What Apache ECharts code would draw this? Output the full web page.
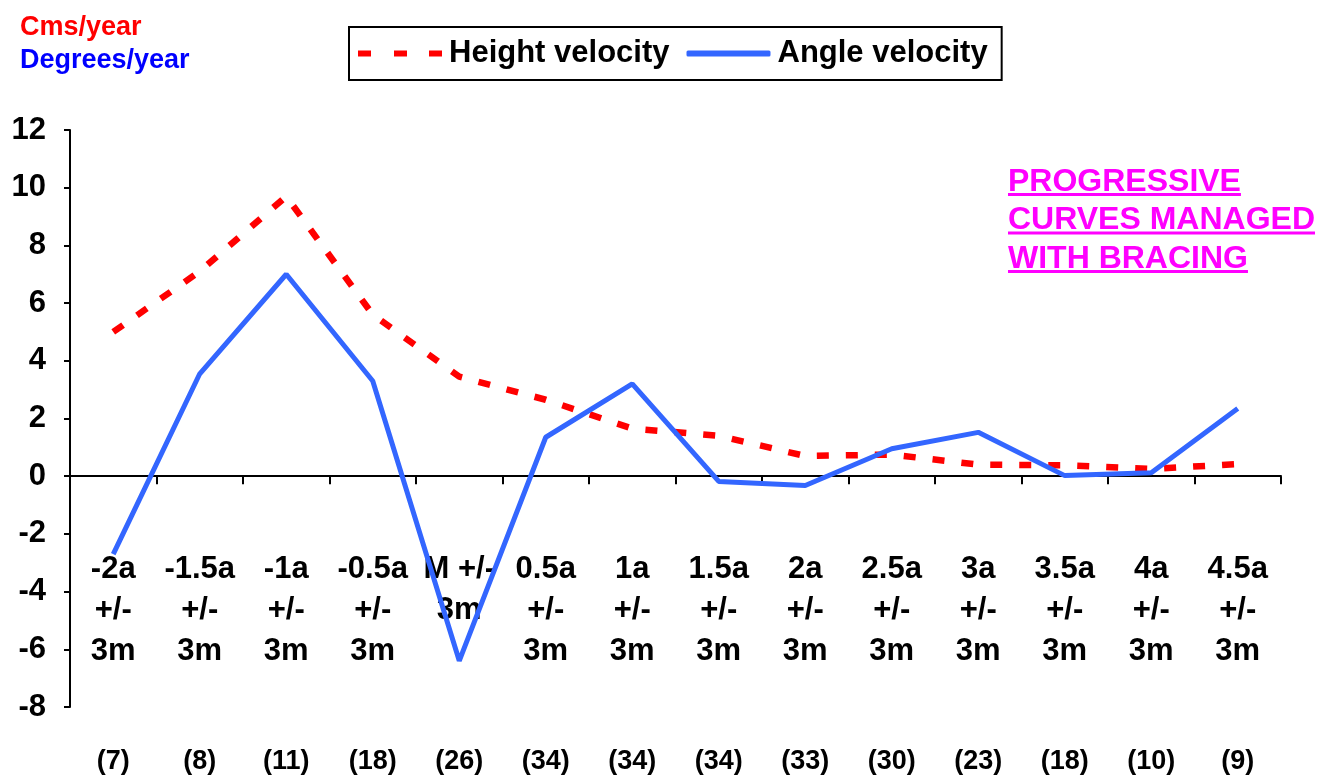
<!DOCTYPE html>
<html>
<head>
<meta charset="utf-8">
<script src="https://cdn.jsdelivr.net/npm/echarts@6/dist/echarts.min.js"></script>
<style>
html,body{margin:0;padding:0;background:#fff;}
#chart{width:1320px;height:777px;}
</style>
</head>
<body>
<div id="chart"></div>
<script>
const categories = ['-2a\n+/-\n3m','-1.5a\n+/-\n3m','-1a\n+/-\n3m','-0.5a\n+/-\n3m','M +/-\n3m','0.5a\n+/-\n3m','1a\n+/-\n3m','1.5a\n+/-\n3m','2a\n+/-\n3m','2.5a\n+/-\n3m','3a\n+/-\n3m','3.5a\n+/-\n3m','4a\n+/-\n3m','4.5a\n+/-\n3m'];
const sampleSizes = ['(7)','(8)','(11)','(18)','(26)','(34)','(34)','(34)','(33)','(30)','(23)','(18)','(10)','(9)'];
const heightVelocity = [5.0, 7.1, 9.7, 5.6, 3.45, 2.65, 1.65, 1.4, 0.7, 0.75, 0.4, 0.38, 0.25, 0.42];
const angleVelocity = [-2.7, 3.55, 7.0, 3.3, -6.4, 1.35, 3.2, -0.18, -0.32, 0.95, 1.52, 0.02, 0.12, 2.35];
const yTicks = {min: -8, max: 12, interval: 2};
const annotLines = ['PROGRESSIVE', 'CURVES MANAGED', 'WITH BRACING'];

const FONT = '"Liberation Sans", Arial, sans-serif';
const chart = echarts.init(document.getElementById('chart'), null, {renderer: 'canvas'});

const measure = (txt, font) => {
  const c = document.createElement('canvas').getContext('2d');
  c.font = font;
  return c.measureText(txt).width;
};

const graphics = [
  {type: 'text', left: 20, top: 14, style: {text: 'Cms/year', fill: '#ff0000', font: 'bold 27px ' + FONT}},
  {type: 'text', left: 20, top: 47, style: {text: 'Degrees/year', fill: '#0000ff', font: 'bold 27px ' + FONT}}
];
const annotFont = 'bold 32px ' + FONT;
annotLines.forEach((t, i) => {
  const top = 166 + i * 38.5;
  graphics.push({type: 'text', left: 1008, top: top, style: {text: t, fill: '#ff00ff', font: annotFont}});
  graphics.push({type: 'rect', left: 1008, top: top + 27, shape: {width: measure(t, annotFont), height: 3}, style: {fill: '#ff00ff'}});
});

chart.setOption({
  animation: false,
  backgroundColor: '#ffffff',
  grid: {left: 70, right: 39, top: 130, bottom: 67, containLabel: false},
  legend: {
    left: 349, top: 27,
    padding: [9, 14, 9, 9],
    borderColor: '#000', borderWidth: 2,
    itemWidth: 84, itemHeight: 6, itemGap: 17,
    textStyle: {fontFamily: FONT, fontWeight: 'bold', fontSize: 31, lineHeight: 35, color: '#000', padding: [0, 0, 0, 2]},
    data: [
      {name: 'Height velocity', icon: 'path://M0,0h13v6h-13z M36,0h13v6h-13z M71,0h13v6h-13z', itemStyle: {color: '#ff0000'}},
      {name: 'Angle velocity', icon: 'roundRect', itemStyle: {color: '#3366ff'}}
    ]
  },
  xAxis: [
    {
      type: 'category', data: categories, boundaryGap: true,
      axisLine: {onZero: true, lineStyle: {color: '#000', width: 2}},
      axisTick: {show: true, length: 8, lineStyle: {color: '#000', width: 2}},
      axisLabel: {show: false},
      splitLine: {show: false}
    },
    {
      type: 'category', data: categories, boundaryGap: true, position: 'bottom', offset: -158,
      axisLine: {show: false}, axisTick: {show: false}, splitLine: {show: false},
      axisLabel: {show: true, interval: 0, margin: 0, verticalAlign: 'top',
        fontFamily: FONT, fontWeight: 'bold', fontSize: 31, lineHeight: 41, color: '#000'}
    },
    {
      type: 'category', data: sampleSizes, boundaryGap: true, position: 'bottom', offset: 0,
      axisLine: {show: false}, axisTick: {show: false}, splitLine: {show: false},
      axisLabel: {show: true, interval: 0, margin: 40, verticalAlign: 'top',
        fontFamily: FONT, fontWeight: 'bold', fontSize: 27, lineHeight: 30, color: '#000'}
    }
  ],
  yAxis: {
    type: 'value', min: yTicks.min, max: yTicks.max, interval: yTicks.interval,
    axisLine: {show: true, lineStyle: {color: '#000', width: 2}},
    axisTick: {show: true, length: 6, inside: false, lineStyle: {color: '#000', width: 2}},
    axisLabel: {margin: 24, fontFamily: FONT, fontWeight: 'bold', fontSize: 31, color: '#000'},
    splitLine: {show: false}
  },
  series: [
    {
      name: 'Height velocity', type: 'line', data: heightVelocity,
      symbol: 'none', showSymbol: false,
      lineStyle: {color: '#ff0000', width: 6.5, type: [12, 17]},
      itemStyle: {color: '#ff0000'}, z: 2
    },
    {
      name: 'Angle velocity', type: 'line', data: angleVelocity,
      symbol: 'none', showSymbol: false,
      lineStyle: {color: '#3366ff', width: 5},
      itemStyle: {color: '#3366ff'}, z: 3
    }
  ],
  graphic: graphics
});
</script>
</body>
</html>
